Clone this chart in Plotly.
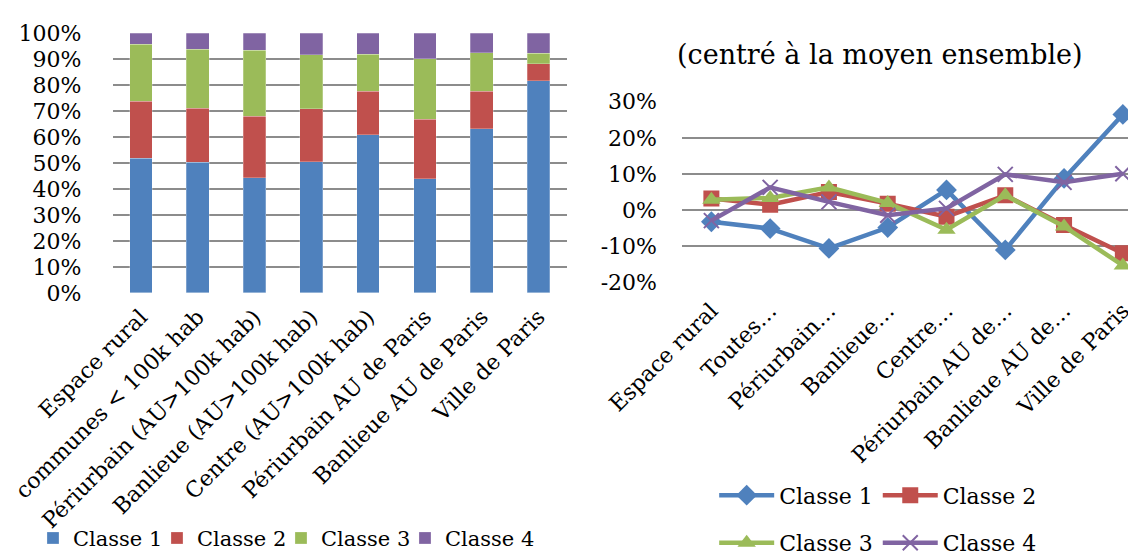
import plotly.graph_objects as go

# categories
zones = ["Espace rural", "communes < 100k hab", "Périurbain (AU>100k hab)",
         "Banlieue (AU>100k hab)", "Centre (AU>100k hab)", "Périurbain AU de Paris",
         "Banlieue AU de Paris", "Ville de Paris"]
zones_short = ["Espace rural", "Toutes…", "Périurbain…", "Banlieue…", "Centre…",
               "Périurbain AU de…", "Banlieue AU de…", "Ville de Paris"]

# share of each class per zone (%)
part_c1 = [51.8, 50.2, 44.3, 50.4, 60.9, 44.0, 63.1, 81.6]
part_c2 = [22.0, 20.9, 23.6, 20.4, 16.7, 22.8, 14.6, 6.6]
part_c3 = [21.9, 22.6, 25.4, 20.8, 14.2, 23.3, 14.8, 4.0]
part_c4 = [4.3, 6.3, 6.7, 8.4, 8.2, 9.9, 7.5, 7.8]

# deviation from the overall mean (%)
ecart_c1 = [-3.2, -5.1, -10.6, -4.8, 5.6, -11.0, 8.8, 26.5]
ecart_c2 = [3.2, 1.5, 5.0, 1.8, -1.8, 4.1, -4.1, -11.9]
ecart_c3 = [2.9, 3.4, 6.3, 2.0, -5.4, 4.1, -4.5, -15.3]
ecart_c4 = [-2.9, 6.3, 2.3, -1.4, 0.5, 9.9, 7.7, 10.1]

classes = ["Classe 1", "Classe 2", "Classe 3", "Classe 4"]
colors = ["#4F81BD", "#C0504D", "#9BBB59", "#8064A2"]
symbols = ["diamond", "square", "triangle-up", "x-thin"]

left_ticks = [0, 10, 20, 30, 40, 50, 60, 70, 80, 90, 100]
left_ticktext = ["0%", "10%", "20%", "30%", "40%", "50%", "60%", "70%", "80%", "90%", "100%"]
right_ticks = [-20, -10, 0, 10, 20, 30]
right_ticktext = ["-20%", "-10%", "0%", "10%", "20%", "30%"]

FONT = "DejaVu Serif"
GRID = "#8C8C8C"

fig = go.Figure()

# stacked bars
for name, vals, col in zip(classes, [part_c1, part_c2, part_c3, part_c4], colors):
    fig.add_trace(go.Bar(
        x=zones, y=vals, name=name,
        marker=dict(color=col, line=dict(color="rgba(255,255,255,0.5)", width=0.5)),
        xaxis="x", yaxis="y", legend="legend",
    ))
# empty entry so the last legend label is not clipped
fig.add_trace(go.Bar(x=[None], y=[None], name=" ",
                     marker=dict(color="rgba(0,0,0,0)", line=dict(width=0)),
                     xaxis="x", yaxis="y", legend="legend", hoverinfo="skip"))

# lines
legends = ["legend2", "legend2", "legend3", "legend3"]
for name, vals, col, sym, lg in zip(classes, [ecart_c1, ecart_c2, ecart_c3, ecart_c4],
                                     colors, symbols, legends):
    mk = dict(symbol=sym, size=16, color=col)
    if sym == "x-thin":
        mk = dict(symbol=sym, size=15, color=col, line=dict(color=col, width=2))
    fig.add_trace(go.Scatter(
        x=zones_short, y=vals, name=name, mode="lines+markers",
        line=dict(color=col, width=4.5), marker=mk,
        xaxis="x2", yaxis="y2", legend=lg,
    ))

fig.update_layout(
    width=1136, height=556,
    margin=dict(l=0, r=0, t=0, b=0),
    paper_bgcolor="white", plot_bgcolor="white",
    font=dict(family=FONT, size=22, color="black"),
    barmode="stack", bargap=0.6,
    xaxis=dict(domain=[0.092, 0.492], anchor="y", tickangle=-45, automargin=False,
               range=[-0.5, 7.5], showgrid=False, showline=False,
               ticklabelstandoff=6, tickfont=dict(size=22)),
    yaxis=dict(domain=[0.4754, 0.9538], anchor="x", range=[0, 100], automargin=False,
               tickvals=left_ticks, ticktext=left_ticktext, showgrid=True,
               gridcolor=GRID, gridwidth=1.5, zeroline=False,
               ticklabelstandoff=30, tickfont=dict(size=22)),
    xaxis2=dict(domain=[0.5933, 1.0], anchor="y2", tickangle=-45, automargin=False,
                range=[-0.5, 7.36], showgrid=False, showline=False,
                ticklabelstandoff=10, tickfont=dict(size=22)),
    yaxis2=dict(domain=[0.4946, 0.8273], anchor="x2", range=[-20, 30], automargin=False,
                tickvals=right_ticks, ticktext=right_ticktext, showgrid=True,
                gridcolor=GRID, gridwidth=1.5, zeroline=False,
                ticklabelstandoff=24, tickfont=dict(size=22)),
    legend=dict(orientation="h", x=0.022, y=1 - 543 / 556, xanchor="left", yanchor="middle",
                font=dict(size=21), itemwidth=30, traceorder="normal",
                bgcolor="rgba(0,0,0,0)", entrywidth=79),
    legend2=dict(orientation="h", x=0.766, y=1 - 499 / 556, xanchor="center", yanchor="middle",
                 font=dict(size=22), itemwidth=55, bgcolor="rgba(0,0,0,0)"),
    legend3=dict(orientation="h", x=0.766, y=1 - 548 / 556, xanchor="center", yanchor="middle",
                 font=dict(size=22), itemwidth=55, bgcolor="rgba(0,0,0,0)"),
    annotations=[dict(text="(centré à la moyen ensemble)", x=0.768, y=1 - 48 / 556,
                      xref="paper", yref="paper", xanchor="center", yanchor="middle",
                      showarrow=False, font=dict(size=27))],
)

fig.write_html("out.html")
